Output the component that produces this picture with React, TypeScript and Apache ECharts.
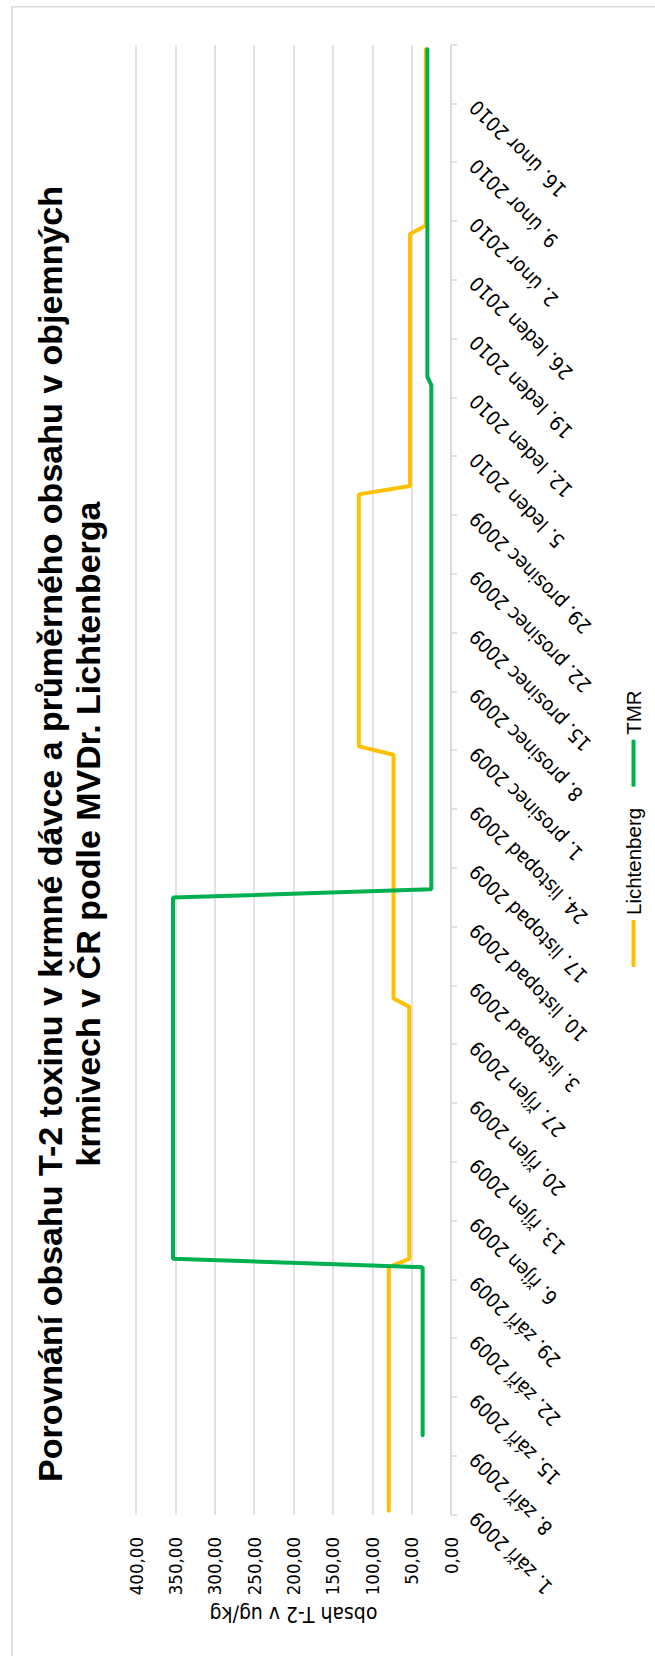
import React, { useEffect, useRef } from 'react';
import * as echarts from 'echarts';

// Page size and the landscape chart that is turned a quarter turn onto it
const PAGE_W = 655;
const PAGE_H = 1656;
const CHART_W = 1656;
const CHART_H = 655;

const seriesNames = ['Lichtenberg', 'TMR'];

// Daily slots of the date axis
const axisStart = '2009-09-01';
const axisDays = 175;

// Values at the points where each series changes (µg/kg)
const lichtenberg: [string, number][] = [
  ['2009-09-01', 79], ['2009-09-30', 79],
  ['2009-10-01', 53], ['2009-10-31', 53],
  ['2009-11-01', 73], ['2009-11-30', 73],
  ['2009-12-01', 117], ['2009-12-31', 117],
  ['2010-01-01', 52], ['2010-01-31', 52],
  ['2010-02-01', 32], ['2010-02-22', 32],
];

const tmr: [string, number][] = [
  ['2009-09-10', 36], ['2009-09-30', 36],
  ['2009-10-01', 353], ['2009-11-13', 353],
  ['2009-11-14', 25], ['2010-01-13', 25],
  ['2010-01-14', 30], ['2010-02-22', 30],
];

// Weekly tick labels
const weekLabels = [
  '1. září 2009', '8. září 2009', '15. září 2009', '22. září 2009', '29. září 2009',
  '6. říjen 2009', '13. říjen 2009', '20. říjen 2009', '27. říjen 2009',
  '3. listopad 2009', '10. listopad 2009', '17. listopad 2009', '24. listopad 2009',
  '1. prosinec 2009', '8. prosinec 2009', '15. prosinec 2009', '22. prosinec 2009', '29. prosinec 2009',
  '5. leden 2010', '12. leden 2010', '19. leden 2010', '26. leden 2010',
  '2. únor 2010', '9. únor 2010', '16. únor 2010',
];

const valueMin = 0;
const valueMax = 400;
const valueStep = 50;

const titleText =
  'Porovnání obsahu T-2 toxinu v krmné dávce a průměrného obsahu v objemných\nkrmivech v ČR podle MVDr. Lichtenberga';
const valueAxisName = 'obsah T-2 v ug/kg';

const colors = ['#FFC000', '#00B050'];
const gridColor = '#d9d9d9';
const axisFont = "'DejaVu Sans Condensed', 'DejaVu Sans', sans-serif";
const plainFont = "'Liberation Sans', Arial, sans-serif";

function dayKeys(): string[] {
  const start = Date.parse(axisStart + 'T00:00:00Z');
  const out: string[] = [];
  for (let i = 0; i < axisDays; i++) {
    out.push(new Date(start + i * 86400000).toISOString().slice(0, 10));
  }
  return out;
}

export default function App() {
  const ref = useRef<HTMLDivElement>(null);

  useEffect(() => {
    if (!ref.current) return;
    const chart = echarts.init(ref.current, undefined, { renderer: 'svg' });
    const days = dayKeys();

    chart.setOption({
      animation: false,
      backgroundColor: '#ffffff',
      grid: { left: 141, right: 45, top: 136, bottom: 204, containLabel: false },
      legend: {
        data: seriesNames,
        left: 689,
        top: 623,
        padding: 0,
        icon: 'roundRect',
        itemWidth: 47,
        itemHeight: 4,
        itemGap: 21,
        textStyle: { fontFamily: plainFont, fontSize: 20.5, color: '#000' },
      },
      xAxis: [
        {
          type: 'category',
          data: days,
          boundaryGap: true,
          position: 'bottom',
          axisLine: { show: true, lineStyle: { color: gridColor, width: 1.5 } },
          axisTick: { show: true, interval: 6, length: 6, lineStyle: { color: gridColor, width: 1.5 } },
          axisLabel: { show: false },
          splitLine: { show: false },
        },
        {
          type: 'value',
          min: 0,
          max: axisDays,
          interval: 7,
          position: 'bottom',
          axisLine: { show: false },
          axisTick: { show: false },
          splitLine: { show: false },
          axisLabel: {
            rotate: 45,
            margin: 22,
            fontFamily: axisFont,
            fontSize: 20,
            color: '#000',
            formatter: (v: number) => weekLabels[Math.round(v / 7)] ?? '',
          },
        },
      ],
      yAxis: {
        type: 'value',
        min: valueMin,
        max: valueMax,
        interval: valueStep,
        axisLine: { show: false },
        axisTick: { show: false },
        splitLine: { show: true, lineStyle: { color: gridColor, width: 1.5 } },
        axisLabel: {
          margin: 22,
          fontFamily: axisFont,
          fontSize: 18.5,
          color: '#000',
          formatter: (v: number) => v.toFixed(2).replace('.', ','),
        },
      },
      series: [
        {
          name: seriesNames[0],
          type: 'line',
          xAxisIndex: 0,
          data: lichtenberg,
          showSymbol: false,
          symbol: 'none',
          color: colors[0],
          lineStyle: { color: colors[0], width: 4, cap: 'round' },
        },
        {
          name: seriesNames[1],
          type: 'line',
          xAxisIndex: 0,
          data: tmr,
          showSymbol: false,
          symbol: 'none',
          color: colors[1],
          lineStyle: { color: colors[1], width: 4, cap: 'round' },
        },
      ],
      graphic: [
        {
          type: 'rect',
          silent: true,
          shape: { x: -20, y: 11.8, width: 1649.3 + 20, height: 700 },
          style: { fill: 'none', stroke: gridColor, lineWidth: 1.5 },
        },
        {
          type: 'text',
          silent: true,
          style: {
            text: titleText,
            x: 822,
            y: 69,
            align: 'center',
            verticalAlign: 'middle',
            fontFamily: plainFont,
            fontWeight: 'bold',
            fontSize: 34,
            lineHeight: 38,
            fill: '#000',
          },
        },
        {
          type: 'text',
          silent: true,
          x: 42,
          y: 293.5,
          rotation: Math.PI / 2,
          style: {
            text: valueAxisName,
            x: 0,
            y: 0,
            align: 'center',
            verticalAlign: 'middle',
            fontFamily: axisFont,
            fontSize: 21,
            fill: '#000',
          },
        },
      ],
    });

    return () => chart.dispose();
  }, []);

  return (
    <div
      style={{
        position: 'absolute',
        left: 0,
        top: 0,
        width: PAGE_W,
        height: PAGE_H,
        overflow: 'hidden',
        background: '#fff',
      }}
    >
      <div
        ref={ref}
        style={{
          position: 'absolute',
          left: 0,
          top: 0,
          width: CHART_W,
          height: CHART_H,
          transformOrigin: '0 0',
          transform: `translateY(${PAGE_H}px) rotate(-90deg)`,
        }}
      />
    </div>
  );
}
